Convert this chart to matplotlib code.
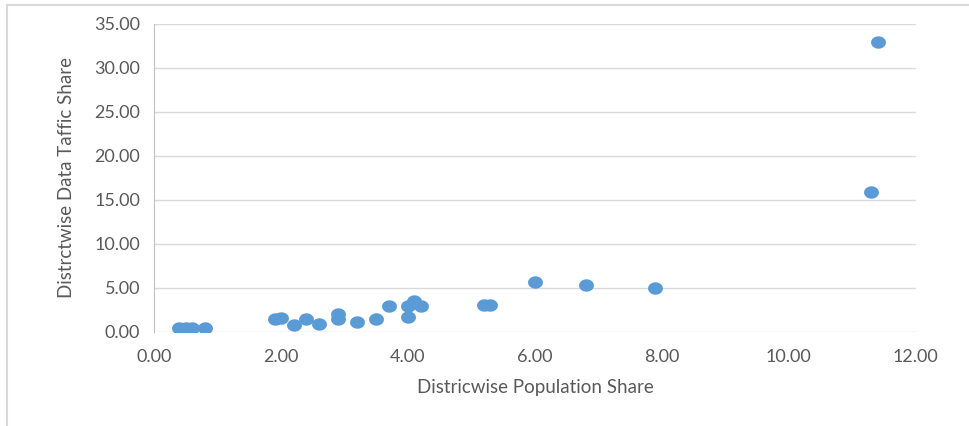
import matplotlib
matplotlib.use("Agg")
import numpy as np
import matplotlib.pyplot as plt
from matplotlib.lines import Line2D
from matplotlib.path import Path

# districtwise population share vs data traffic share
pop_share = [0.4, 0.5, 0.6, 0.8, 1.9, 2.0, 2.2, 2.4, 2.6, 2.9, 2.9, 3.2, 3.5,
             3.7, 4.0, 4.0, 4.1, 4.2, 5.2, 5.3, 6.0, 6.8, 7.9, 11.3, 11.4]
traffic_share = [0.4, 0.5, 0.5, 0.4, 1.5, 1.6, 0.8, 1.5, 0.9, 2.0, 1.5, 1.1, 1.5,
                 3.0, 3.0, 1.7, 3.5, 3.0, 3.1, 3.1, 5.7, 5.3, 5.0, 15.9, 33.0]

x_ticks = [0, 2, 4, 6, 8, 10, 12]
y_ticks = [0, 5, 10, 15, 20, 25, 30, 35]

plt.rcParams['font.family'] = ['Lato', 'DejaVu Sans']
text_col = '#595959'
grid_col = '#d9d9d9'

# slightly wide ellipse marker (the original chart was stretched a little)
t = np.linspace(0, 2 * np.pi, 60)
ellipse = Path(np.column_stack([0.6 * np.cos(t), 0.5 * np.sin(t)]), closed=True)

fig = plt.figure(figsize=(9.69, 4.26), dpi=100)
ax = fig.add_axes([0.159, 0.2207, 0.786, 0.723])

ax.scatter(pop_share, traffic_share, s=115, marker=ellipse, color='#5b9bd5',
           zorder=3, linewidths=0)

ax.set_xlim(0, 12)
ax.set_ylim(0, 35)
ax.set_xticks(x_ticks)
ax.set_yticks(y_ticks)
ax.set_xticklabels([f"{v:.2f}" for v in x_ticks])
ax.set_yticklabels([f"{v:.2f}" for v in y_ticks])
ax.tick_params(length=0, labelsize=13, colors=text_col)
ax.tick_params(axis='x', pad=12)
ax.tick_params(axis='y', pad=10)

ax.grid(axis='y', color=grid_col, linewidth=1)
ax.set_axisbelow(True)
for side in ['top', 'right', 'bottom']:
    ax.spines[side].set_visible(False)
ax.spines['left'].set_color('#bfbfbf')

ax.set_xlabel('Districwise Population Share', fontsize=13.5, color=text_col, labelpad=10)
ax.set_ylabel('Distrctwise Data Taffic Share', fontsize=13.5, color=text_col, labelpad=14)

# chart frame (top and left edges visible)
fig.add_artist(Line2D([0.007, 1.0], [0.988, 0.988], color='#d9d9d9', linewidth=1.5))
fig.add_artist(Line2D([0.007, 0.007], [0.0, 0.988], color='#d9d9d9', linewidth=1.5))

fig.savefig('out.png', dpi=100)
